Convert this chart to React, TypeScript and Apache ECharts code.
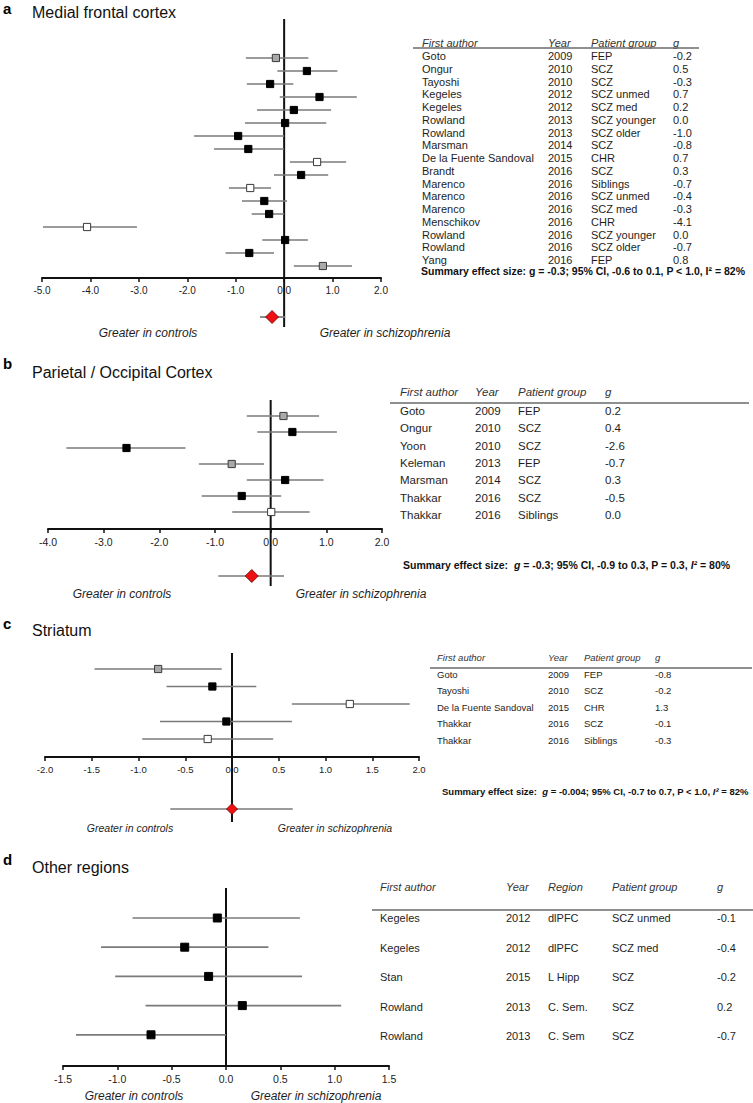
import React, { useEffect, useRef } from "react";
import * as echarts from "echarts";

const FONT = "'Liberation Sans', Arial, Helvetica, sans-serif";

// ---------- Panel a: Medial frontal cortex ----------
const authorsA = ["Goto", "Ongur", "Tayoshi", "Kegeles", "Kegeles", "Rowland", "Rowland", "Marsman", "De la Fuente Sandoval", "Brandt", "Marenco", "Marenco", "Marenco", "Menschikov", "Rowland", "Rowland", "Yang"];
const yearsA = [2009, 2010, 2010, 2012, 2012, 2013, 2013, 2014, 2015, 2016, 2016, 2016, 2016, 2016, 2016, 2016, 2016];
const groupsA = ["FEP", "SCZ", "SCZ", "SCZ unmed", "SCZ med", "SCZ younger", "SCZ older", "SCZ", "CHR", "SCZ", "Siblings", "SCZ unmed", "SCZ med", "CHR", "SCZ younger", "SCZ older", "FEP"];
const gA = [-0.2, 0.5, -0.3, 0.7, 0.2, 0.0, -1.0, -0.8, 0.7, 0.3, -0.7, -0.4, -0.3, -4.1, 0.0, -0.7, 0.8];
const estA = [-0.17, 0.47, -0.29, 0.73, 0.2, 0.02, -0.95, -0.74, 0.68, 0.35, -0.7, -0.41, -0.31, -4.07, 0.02, -0.72, 0.8];
const loA = [-0.79, -0.14, -0.77, -0.09, -0.56, -0.81, -1.86, -1.45, 0.12, -0.21, -1.14, -0.87, -0.67, -4.98, -0.45, -1.21, 0.2];
const hiA = [0.5, 1.1, 0.19, 1.5, 0.97, 0.87, 0.0, 0.0, 1.28, 0.91, -0.27, 0.06, 0.0, -3.04, 0.49, -0.21, 1.4];
const marksA = ["grey", "black", "black", "black", "black", "black", "black", "black", "white", "black", "white", "black", "black", "white", "black", "black", "grey"];
const summaryA = [-0.25, -0.5, 0.02];

// ---------- Panel b: Parietal / Occipital Cortex ----------
const authorsB = ["Goto", "Ongur", "Yoon", "Keleman", "Marsman", "Thakkar", "Thakkar"];
const yearsB = [2009, 2010, 2010, 2013, 2014, 2016, 2016];
const groupsB = ["FEP", "SCZ", "SCZ", "FEP", "SCZ", "SCZ", "Siblings"];
const gB = [0.2, 0.4, -2.6, -0.7, 0.3, -0.5, 0.0];
const estB = [0.23, 0.39, -2.59, -0.7, 0.26, -0.52, 0.01];
const loB = [-0.43, -0.24, -3.67, -1.29, -0.43, -1.24, -0.69];
const hiB = [0.87, 1.19, -1.53, -0.12, 0.95, 0.19, 0.7];
const marksB = ["grey", "black", "black", "grey", "black", "black", "white"];
const summaryB = [-0.34, -0.94, 0.24];

// ---------- Panel c: Striatum ----------
const authorsC = ["Goto", "Tayoshi", "De la Fuente Sandoval", "Thakkar", "Thakkar"];
const yearsC = [2009, 2010, 2015, 2016, 2016];
const groupsC = ["FEP", "SCZ", "CHR", "SCZ", "Siblings"];
const gC = [-0.8, -0.2, 1.3, -0.1, -0.3];
const estC = [-0.79, -0.21, 1.26, -0.06, -0.26];
const loC = [-1.47, -0.7, 0.64, -0.77, -0.96];
const hiC = [-0.11, 0.26, 1.9, 0.64, 0.44];
const marksC = ["grey", "black", "white", "black", "white"];
const summaryC = [0.0, -0.66, 0.65];

// ---------- Panel d: Other regions ----------
const authorsD = ["Kegeles", "Kegeles", "Stan", "Rowland", "Rowland"];
const yearsD = [2012, 2012, 2015, 2013, 2013];
const regionsD = ["dlPFC", "dlPFC", "L Hipp", "C. Sem.", "C. Sem"];
const groupsD = ["SCZ unmed", "SCZ med", "SCZ", "SCZ", "SCZ"];
const gD = [-0.1, -0.4, -0.2, 0.2, -0.7];
const estD = [-0.08, -0.38, -0.16, 0.15, -0.69];
const loD = [-0.86, -1.15, -1.02, -0.74, -1.38];
const hiD = [0.68, 0.39, 0.7, 1.06, 0.0];
const marksD = ["black", "black", "black", "black", "black"];

const titles = ["Medial frontal cortex", "Parietal / Occipital Cortex", "Striatum", "Other regions"];
const letters = ["a", "b", "c", "d"];
const ctrlLabel = "Greater in controls";
const schLabel = "Greater in schizophrenia";

type Layout = {
  left: number; right: number; axisY: number; rowTop: number; rowStep: number;
  zeroTop: number; zeroBottom: number; diamondY: number;
  xMin: number; xMax: number; interval: number; tickFont: number;
  labelY: number; ctrlX: number; schX: number; labelFont: number;
  titleY: number; letterY: number;
  cols: number[]; headerY: number; lineY: number; lineX1: number; lineX2: number;
  tRowTop: number; tRowStep: number; tFont: number;
  sumX: number; sumY: number; sumFont: number;
};

const layouts: Layout[] = [
  { left: 42, right: 381, axisY: 278, rowTop: 58, rowStep: 13, zeroTop: 19, zeroBottom: 327, diamondY: 317,
    xMin: -5, xMax: 2, interval: 1, tickFont: 10, labelY: 333, ctrlX: 148, schX: 385, labelFont: 12,
    titleY: 12, letterY: 8, cols: [422, 548, 591, 673], headerY: 43, lineY: 48, lineX1: 413, lineX2: 699,
    tRowTop: 56, tRowStep: 12.75, tFont: 11, sumX: 421, sumY: 271, sumFont: 10.5 },
  { left: 48, right: 382, axisY: 529, rowTop: 416, rowStep: 16, zeroTop: 400, zeroBottom: 586, diamondY: 576,
    xMin: -4, xMax: 2, interval: 1, tickFont: 10.5, labelY: 594, ctrlX: 122, schX: 361, labelFont: 12,
    titleY: 372, letterY: 363, cols: [400, 475, 518, 605], headerY: 392, lineY: 403, lineX1: 390, lineX2: 749,
    tRowTop: 411, tRowStep: 17.33, tFont: 11.5, sumX: 403, sumY: 565, sumFont: 10.5 },
  { left: 45, right: 419, axisY: 757, rowTop: 669, rowStep: 17.5, zeroTop: 653, zeroBottom: 822, diamondY: 809,
    xMin: -2, xMax: 2, interval: 0.5, tickFont: 9.5, labelY: 828, ctrlX: 130, schX: 335, labelFont: 10.5,
    titleY: 630, letterY: 623, cols: [437, 548, 584, 655], headerY: 657, lineY: 668, lineX1: 430, lineX2: 752,
    tRowTop: 674, tRowStep: 16.5, tFont: 9.5, sumX: 442, sumY: 791, sumFont: 9.5 },
  { left: 63, right: 389, axisY: 1066, rowTop: 918, rowStep: 29.2, zeroTop: 888, zeroBottom: 1066, diamondY: 0,
    xMin: -1.5, xMax: 1.5, interval: 0.5, tickFont: 10.5, labelY: 1096, ctrlX: 134, schX: 316, labelFont: 12,
    titleY: 867, letterY: 859, cols: [380, 506, 548, 612, 717], headerY: 887, lineY: 910, lineX1: 372, lineX2: 753,
    tRowTop: 918, tRowStep: 29.5, tFont: 11, sumX: 0, sumY: 0, sumFont: 0 },
];

const summaryTexts = [
  "{n|Summary effect size: g = -0.3; 95% CI, -0.6 to 0.1, P < 1.0, I² = 82%}",
  "{n|Summary effect size:  }{i|g}{n| = -0.3; 95% CI, -0.9 to 0.3, P = 0.3, }{i|I²}{n| = 80%}",
  "{n|Summary effect size:  }{i|g}{n| = -0.004; 95% CI, -0.7 to 0.7, P < 1.0, }{i|I²}{n| = 82%}",
];

const MARK_STYLE: Record<string, { fill: string; stroke: string }> = {
  black: { fill: "#000000", stroke: "#000000" },
  grey: { fill: "#a9a9a9", stroke: "#3a3a3a" },
  white: { fill: "#ffffff", stroke: "#3a3a3a" },
};
const MARK_CODES = ["black", "grey", "white"];

function txt(x: number, y: number, text: string, size: number, opts: any = {}) {
  return {
    type: "text", x, y, silent: true, z: 20,
    style: {
      text, fill: opts.color || "#1e1e1e", fontSize: size, fontFamily: FONT,
      fontStyle: opts.italic ? "italic" : "normal", fontWeight: opts.bold ? "bold" : "normal",
      textAlign: opts.align || "left", textVerticalAlign: "middle",
      align: opts.align || "left", verticalAlign: "middle",
    },
  };
}

export default function App() {
  const ref = useRef<HTMLDivElement>(null);
  useEffect(() => {
    if (!ref.current) return;
    const chart = echarts.init(ref.current, undefined, { renderer: "svg" });

    const panels = [
      { authors: authorsA, years: yearsA, groups: groupsA, g: gA, est: estA, lo: loA, hi: hiA, marks: marksA, summary: summaryA, regions: null as any },
      { authors: authorsB, years: yearsB, groups: groupsB, g: gB, est: estB, lo: loB, hi: hiB, marks: marksB, summary: summaryB, regions: null as any },
      { authors: authorsC, years: yearsC, groups: groupsC, g: gC, est: estC, lo: loC, hi: hiC, marks: marksC, summary: summaryC, regions: null as any },
      { authors: authorsD, years: yearsD, groups: groupsD, g: gD, est: estD, lo: loD, hi: hiD, marks: marksD, summary: null as any, regions: regionsD },
    ];

    const grid: any[] = [];
    const xAxis: any[] = [];
    const yAxis: any[] = [];
    const series: any[] = [];
    const graphics: any[] = [];

    panels.forEach((p, k) => {
      const L = layouts[k];
      grid.push({ left: L.left, top: L.zeroTop, width: L.right - L.left, height: L.axisY - L.zeroTop });
      xAxis.push({
        gridIndex: k, type: "value", min: L.xMin, max: L.xMax, interval: L.interval,
        axisLine: { show: true, onZero: false, lineStyle: { color: "#111", width: 2 } },
        axisTick: { show: true, length: 4, lineStyle: { color: "#111", width: 1.5 } },
        axisLabel: { fontSize: L.tickFont, color: "#222", fontFamily: FONT, margin: 7,
          formatter: (v: number) => v.toFixed(1) },
        splitLine: { show: false },
      });
      const yMin = (L.zeroTop - L.rowTop) / L.rowStep;
      const yMax = (L.axisY - L.rowTop) / L.rowStep;
      yAxis.push({ gridIndex: k, type: "value", min: yMin, max: yMax, inverse: true, show: false });

      // zero line
      series.push({
        type: "custom", xAxisIndex: k, yAxisIndex: k, clip: false, z: 2, silent: true,
        data: [[0, yMin, (L.zeroBottom - L.rowTop) / L.rowStep]],
        renderItem: (params: any, api: any) => {
          const a = api.coord([api.value(0), api.value(1)]);
          const b = api.coord([api.value(0), api.value(2)]);
          return { type: "line", shape: { x1: a[0], y1: a[1], x2: b[0], y2: b[1] }, style: { stroke: "#111", lineWidth: 2 } };
        },
      });

      const data: number[][] = p.est.map((e, i) => [e, p.lo[i], p.hi[i], i, MARK_CODES.indexOf(p.marks[i])]);
      if (p.summary) {
        data.push([p.summary[0], p.summary[1], p.summary[2], (L.diamondY - L.rowTop) / L.rowStep, 3]);
      }
      series.push({
        type: "custom", xAxisIndex: k, yAxisIndex: k, clip: false, z: 3, silent: true,
        encode: { x: [0, 1, 2], y: 3 },
        data,
        renderItem: (params: any, api: any) => {
          const row = api.value(3);
          const kind = api.value(4);
          const pe = api.coord([api.value(0), row]);
          const pl = api.coord([api.value(1), row]);
          const ph = api.coord([api.value(2), row]);
          const children: any[] = [
            { type: "line", shape: { x1: pl[0], y1: pl[1], x2: ph[0], y2: ph[1] }, style: { stroke: "#7a7a7a", lineWidth: 1.7 } },
          ];
          if (kind === 3) {
            const s = k === 2 ? 5.5 : 6.5;
            children.push({
              type: "polygon",
              shape: { points: [[pe[0], pe[1] - s], [pe[0] + s, pe[1]], [pe[0], pe[1] + s], [pe[0] - s, pe[1]]] },
              style: { fill: "#ee1111", stroke: "#6a0000", lineWidth: 0.8 },
            });
          } else {
            const h = k === 3 ? 4 : 3.6;
            const st = MARK_STYLE[MARK_CODES[kind]];
            children.push({
              type: "rect", shape: { x: pe[0] - h, y: pe[1] - h, width: 2 * h, height: 2 * h },
              style: { fill: st.fill, stroke: st.stroke, lineWidth: 1 },
            });
          }
          return { type: "group", children };
        },
      });

      // titles
      graphics.push(txt(3, L.letterY, letters[k], 15, { bold: true, color: "#000" }));
      graphics.push(txt(32, L.titleY, titles[k], 16, { color: "#111" }));
      // direction labels
      graphics.push(txt(L.ctrlX, L.labelY, ctrlLabel, L.labelFont, { italic: true, align: "center" }));
      graphics.push(txt(L.schX, L.labelY, schLabel, L.labelFont, { italic: true, align: "center" }));

      // table
      const headers = p.regions
        ? ["First author", "Year", "Region", "Patient group", "g"]
        : ["First author", "Year", "Patient group", "g"];
      headers.forEach((h, c) => graphics.push(txt(L.cols[c], L.headerY, h, L.tFont, { italic: true, color: "#333" })));
      graphics.push({
        type: "line", silent: true, z: 20,
        shape: { x1: L.lineX1, y1: L.lineY, x2: L.lineX2, y2: L.lineY },
        style: { stroke: "#6a6a6a", lineWidth: 1.6 },
      });
      p.authors.forEach((a, i) => {
        const y = L.tRowTop + i * L.tRowStep;
        const cells = p.regions
          ? [a, String(p.years[i]), p.regions[i], p.groups[i], p.g[i].toFixed(1)]
          : [a, String(p.years[i]), p.groups[i], p.g[i].toFixed(1)];
        cells.forEach((c, ci) => graphics.push(txt(L.cols[ci], y, c, L.tFont)));
      });
      if (k < 3) {
        graphics.push({
          type: "text", x: L.sumX, y: L.sumY, silent: true, z: 20,
          style: {
            text: summaryTexts[k], fill: "#111", textAlign: "left", textVerticalAlign: "middle",
            align: "left", verticalAlign: "middle",
            rich: {
              n: { fontSize: L.sumFont, fontWeight: "bold", fontFamily: FONT, fill: "#111" },
              i: { fontSize: L.sumFont, fontWeight: "bold", fontStyle: "italic", fontFamily: FONT, fill: "#111" },
            },
          },
        });
      }
    });

    chart.setOption({
      animation: false,
      backgroundColor: "#ffffff",
      grid, xAxis, yAxis, series,
      graphic: { elements: graphics },
    });
    return () => chart.dispose();
  }, []);

  return <div ref={ref} style={{ position: "absolute", left: 0, top: 0, width: 753, height: 1103, background: "#fff" }} />;
}
